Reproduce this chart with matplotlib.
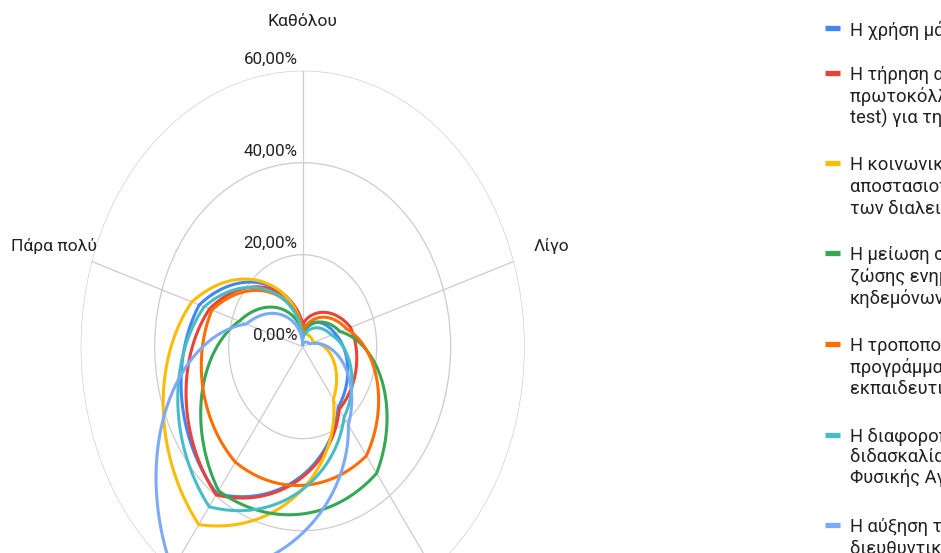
import numpy as np
import matplotlib
matplotlib.use("Agg")
import matplotlib.pyplot as plt
from matplotlib.lines import Line2D

plt.rcParams['font.family'] = ['Roboto', 'DejaVu Sans']

# ---------------- data ----------------
categories = ['Καθόλου', 'Λίγο', 'Μέτρια', 'Πολύ', 'Πάρα πολύ']
r_ticks = [0, 20, 40, 60]
r_tick_labels = ['0,00%', '20,00%', '40,00%', '60,00%']

series_labels = [
    'Η χρήση μάσκας.',
    'Η τήρηση αυστηρών υγειονομικών\nπρωτοκόλλων (θερμομέτρηση, self-\ntest) για την είσοδο στο σχολείο.',
    'Η κοινωνική\nαποστασιοποίηση κατά τη διάρκεια\nτων διαλειμμάτων.',
    'Η μείωση συναντήσεων και\nζώσης ενημέρωσης γονέων και\nκηδεμόνων.',
    'Η τροποποίηση του ωρολογίου\nπρογράμματος και της\nεκπαιδευτικής διαδικασίας.',
    'Η διαφοροποίηση στη\nδιδασκαλία του μαθήματος της\nΦυσικής Αγωγής.',
    'Η αύξηση των\nδιευθυντικών καθηκόντων.',
]
mask_use = [4.0, 9.2, 16.3, 39.5, 29.4]
protocols = [4.9, 13.6, 16.8, 39.8, 26.5]
distancing = [2.9, 3.0, 14.1, 47.8, 31.5]
parent_meetings = [2.5, 10.6, 34.0, 38.7, 18.0]
schedule_change = [3.2, 12.5, 29.3, 31.0, 25.8]
phys_ed = [1.8, 8.2, 19.0, 43.0, 28.0]
admin_duties = [0.5, 2.0, 21.0, 60.0, 16.0]
series_values = [mask_use, protocols, distancing, parent_meetings,
                 schedule_change, phys_ed, admin_duties]
series_colors = ['#4285F4', '#EA4335', '#FBBC04', '#34A853',
                 '#FF6D01', '#46BDC6', '#7BAAF7']

# ---------------- figure ----------------
W, H = 941, 553
fig = plt.figure(figsize=(W / 100, H / 100), dpi=100)
fig.patch.set_facecolor('white')

cx, cy = 302.7, 346.7          # centre in pixels (from top)
rx, ry = 222.0, 276.0          # radius of outer ring in pixels
ax = fig.add_axes([(cx - rx) / W, 1 - (cy + ry) / H, 2 * rx / W, 2 * ry / H],
                  projection='polar')
ax.set_aspect('auto')
ax.set_theta_zero_location('N')
ax.set_theta_direction(-1)
ax.set_ylim(0, r_ticks[-1])

theta = np.linspace(0, 2 * np.pi, len(categories), endpoint=False)
ax.set_xticks(theta)
ax.set_xticklabels([])
ax.set_yticks(r_ticks[1:])
ax.set_yticklabels([])
ax.grid(color='#cccccc', linewidth=0.9)
ax.spines['polar'].set_visible(False)
ax.tick_params(length=0)

theta_closed = np.append(theta, theta[0] + 2 * np.pi)
for vals, col in zip(series_values, series_colors):
    ln, = ax.plot(theta_closed, list(vals) + [vals[0]], color=col,
                  linewidth=2.2, clip_on=False)
    ln.get_path()._interpolation_steps = 80

# radial tick labels
for v, lab in zip(r_ticks, r_tick_labels):
    ax.annotate(lab, xy=(0, v), xytext=(-5, 11.5), textcoords='offset pixels',
                ha='right', va='center', fontsize=12.2, color='#222222',
                annotation_clip=False)

# category labels
for t, cat in zip(theta, categories):
    ax.text(t, 70.6, cat, ha='center', va='center', fontsize=12.6,
            color='#222222', clip_on=False)

# ---------------- legend ----------------
y = 28.0
for lab, col in zip(series_labels, series_colors):
    yf = 1 - y / H
    fig.add_artist(Line2D([825 / W, 840 / W], [yf, yf], color=col, linewidth=3.8,
                          solid_capstyle='butt', transform=fig.transFigure))
    fig.text(850 / W, 1 - (y - 7.0) / H, lab, ha='left', va='top', fontsize=13.2,
             color='#222222', linespacing=1.19)
    n_lines = lab.count('\n') + 1
    y += 44.5 + (n_lines - 1) * 23.0

fig.savefig('out.png', dpi=100, facecolor='white')
